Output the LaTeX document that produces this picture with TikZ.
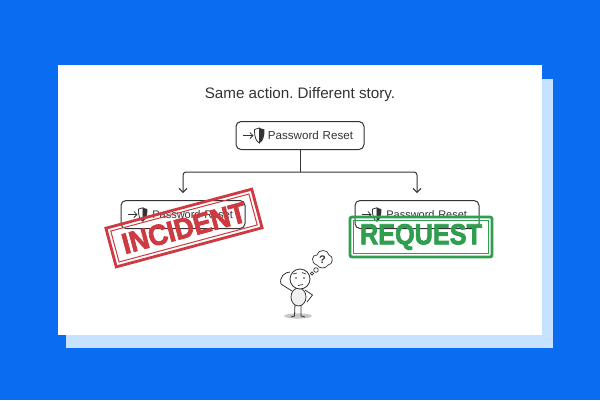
\documentclass[tikz,border=0pt]{standalone}
\usepackage{fontspec}
\setmainfont{Liberation Sans}
\newfontfamily\stampfont[BoldFeatures={FakeBold=2.6}]{Liberation Sans}
\usetikzlibrary{positioning, arrows.meta}
\definecolor{pageblue}{HTML}{0A6CF0}
\definecolor{paleblue}{HTML}{C6E2FF}
\definecolor{inkgrey}{HTML}{333333}
\definecolor{stampred}{HTML}{CE3A42}
\definecolor{stampgreen}{HTML}{2F9E4F}

\tikzset{
    actionbox/.style={draw=inkgrey, line width=1pt, rounded corners=5pt, fill=white, minimum width=128pt, minimum height=28pt, inner sep=0pt, text=inkgrey, font=\fontsize{11.6}{13}\selectfont, text width=106pt, align=right},
    lowerbox/.style={actionbox, minimum width=124pt, font=\fontsize{11}{13}\selectfont, text width=100pt},
    stampbox/.style={draw=#1, text=#1, line width=2.8pt, inner sep=0pt, font=\fontsize{29}{32}\stampfont\bfseries},
    stampinner/.style={draw=#1, line width=1pt, inner sep=0pt},
    resetmark/.pic={
        \draw[inkgrey, line width=0.8pt, -{Straight Barb[length=3pt,width=6pt]}] (-11,0) -- (0,0);
        \draw[inkgrey, line width=0.8pt, fill=white] (1,-6) -- (6,-7.5) -- (6,7.5) .. controls (3,6) and (1,3) .. (1,-6);
        \fill[inkgrey] (6,-7.5) -- (11,-6) .. controls (11,3) and (9,6) .. (6,7.5) -- cycle;
    }
}

\begin{document}
\frenchspacing
\begin{tikzpicture}[x=1pt, y=-1pt, node distance=79pt and 117pt, on grid, >={Straight Barb[length=4pt,width=8pt]}]
    \useasboundingbox (0,0) rectangle (600,400);
    \fill[pageblue] (0,0) rectangle (600,400);
    \fill[paleblue] (66,79) rectangle (553,348);
    \fill[white] (58,65) rectangle (542,335);

    \node[text=inkgrey, font=\fontsize{15.2}{18}\selectfont] (title) at (300,95) {Same action. Different story.};

    \node[actionbox] (reset) at (300,135.5) {Password Reset};
    \node[lowerbox, below left=of reset] (resetleft) {Password Reset};
    \node[lowerbox, below right=of reset] (resetright) {Password Reset};
    \pic at ([xshift=18pt]reset.west) {resetmark};
    \pic[scale=0.9] at ([xshift=17pt]resetleft.west) {resetmark};
    \pic[scale=0.9] at ([xshift=17pt]resetright.west) {resetmark};

    \coordinate (split) at (300,172);
    \draw[inkgrey, line width=1pt] (reset) -- (split);
    \draw[inkgrey, line width=1pt, ->, rounded corners=3pt, shorten >=7pt] (split) -| (resetleft);
    \draw[inkgrey, line width=1pt, ->, rounded corners=3pt, shorten >=7pt] (split) -| (resetright);

    \node[stampbox=stampred, rotate=15, minimum width=151pt, minimum height=40pt] (incident) at (184,228) {\scalebox{0.93}[1]{INCIDENT}};
    \node[stampinner=stampred, rotate=15, minimum width=143pt, minimum height=32pt] (incidentline) at (incident) {};
    \node[stampbox=stampgreen, rounded corners=2pt, minimum width=142pt, minimum height=40pt] (request) at (421,237) {\scalebox{0.87}[1]{REQUEST}};
    \node[stampinner=stampgreen, minimum width=135pt, minimum height=33pt] (requestline) at (request) {};

    % thinking figure
    \fill[black!22] (298,316) ellipse (14 and 2.6);
    \draw[inkgrey, line width=0.8pt, fill=white] (292,291) -- (281,284) .. controls (279,277) and (285,272) .. (290,272);
    \draw[inkgrey, line width=0.8pt] (305,290) -- (312.5,295) -- (307,302);
    \draw[inkgrey, line width=0.8pt] (295,304) -- (294.5,316) -- (291,317);
    \draw[inkgrey, line width=0.8pt] (301,304) -- (301,316) -- (305,317);
    \draw[inkgrey, line width=0.8pt, fill=black!6] (298.5,297) ellipse (7.5 and 9);
    \draw[inkgrey, line width=0.8pt, fill=white] (300,279) circle (10);
    \fill[inkgrey] (296,278) circle (0.9) (304,278) circle (0.9);
    \draw[inkgrey, line width=0.7pt] (293,274) -- (297,273) (302,272.5) -- (306,274) (298,285.5) -- (303,284.5);
    \draw[inkgrey, line width=0.7pt, fill=white] (312,273.5) circle (1.6) (316,270) circle (2.3);
    \draw[inkgrey, line width=0.7pt, fill=white] (317,265) .. controls (310,263) and (312,254) .. (317,255) .. controls (318,249) and (328,249) .. (329,255) .. controls (334,256) and (333,265) .. (328,265) .. controls (326,269) and (319,269) .. (317,265) -- cycle;
    \node[text=inkgrey, inner sep=0pt, font=\fontsize{11}{12}\selectfont\bfseries] (puzzled) at (322.5,260) {?};
\end{tikzpicture}
\end{document}
